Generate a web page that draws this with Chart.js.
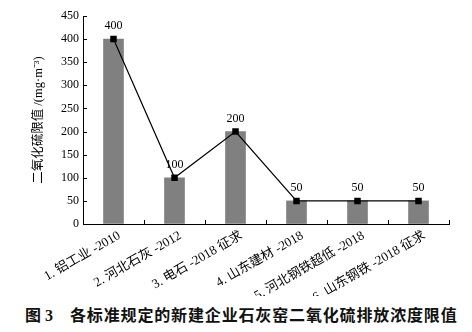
<!DOCTYPE html>
<html>
<head>
<meta charset="utf-8">
<script src="https://cdn.jsdelivr.net/npm/chart.js@4.4.1/dist/chart.umd.min.js"></script>
<style>
  body { margin: 0; background: #fff; }
  #wrap { position: relative; width: 472px; height: 332px; }
  #caption {
    position: absolute; left: 25px; top: 304px;
    font: bold 16px "Noto Sans CJK SC", sans-serif;
    line-height: 20px; color: #111; white-space: nowrap;
  }
  #caption .num { font-family: "Liberation Serif", serif; }
  #caption .txt { position: absolute; left: 45px; top: 0; letter-spacing: 0.85px; }
</style>
</head>
<body>
<div id="wrap">
  <canvas id="chart" width="472" height="296"></canvas>
  <div id="caption">图<span class="num"> 3</span><span class="txt">各标准规定的新建企业石灰窑二氧化硫排放浓度限值</span></div>
</div>
<script>
// categories and values
const categories = [
  "1. 铝工业 -2010",
  "2. 河北石灰 -2012",
  "3. 电石 -2018 征求",
  "4. 山东建材 -2018",
  "5. 河北钢铁超低 -2018",
  "6. 山东钢铁 -2018 征求"
];
const limits = [400, 100, 200, 50, 50, 50];
const yTicks = [0, 50, 100, 150, 200, 250, 300, 350, 400, 450];
const yTitle = "二氧化硫限值 /(mg·m⁻³)";

const serif = "'Liberation Serif', 'Noto Sans CJK SC', serif";

// point labels above the line markers
const valueLabels = {
  id: "valueLabels",
  afterDatasetsDraw(chart) {
    const ctx = chart.ctx;
    const meta = chart.getDatasetMeta(1);
    ctx.save();
    ctx.fillStyle = "#000";
    ctx.font = "12px " + serif;
    ctx.textAlign = "center";
    ctx.textBaseline = "middle";
    meta.data.forEach((pt, i) => {
      ctx.fillText(String(limits[i]), pt.x, pt.y - 13);
    });
    ctx.restore();
  }
};

// tick marks pointing into the plot
const innerTicks = {
  id: "innerTicks",
  afterDraw(chart) {
    const ctx = chart.ctx;
    const x = chart.scales.x;
    const y = chart.scales.y;
    ctx.save();
    ctx.strokeStyle = "#000";
    ctx.lineWidth = 1;
    ctx.beginPath();
    yTicks.forEach(v => {
      const py = Math.round(y.getPixelForValue(v)) + 0.5;
      ctx.moveTo(y.right, py);
      ctx.lineTo(y.right + 4, py);
    });
    for (let i = 0; i <= categories.length; i++) {
      const px = Math.round(x.getPixelForValue(i - 0.5)) + 0.5;
      ctx.moveTo(px, x.top);
      ctx.lineTo(px, x.top - 4);
    }
    ctx.stroke();
    ctx.restore();
  }
};

new Chart(document.getElementById("chart"), {
  type: "bar",
  data: {
    labels: categories,
    datasets: [
      {
        type: "bar",
        data: limits,
        backgroundColor: "#808080",
        borderWidth: 0,
        barThickness: 20,
        order: 2
      },
      {
        type: "line",
        data: limits,
        borderColor: "#000",
        borderWidth: 1.2,
        pointStyle: "rect",
        pointRadius: 4.6,
        pointBackgroundColor: "#000",
        pointBorderColor: "#000",
        pointBorderWidth: 0,
        tension: 0,
        order: 1
      }
    ]
  },
  options: {
    responsive: false,
    animation: false,
    devicePixelRatio: 1,
    layout: { padding: { top: 16, right: 23, left: 0, bottom: 0 } },
    plugins: {
      legend: { display: false },
      tooltip: { enabled: false }
    },
    scales: {
      x: {
        offset: true,
        grid: { display: true, drawOnChartArea: false, drawTicks: false, offset: true },
        border: { color: "#000", width: 1 },
        ticks: {
          color: "#000",
          font: { family: serif, size: 13 },
          minRotation: 30,
          maxRotation: 30,
          autoSkip: false,
          labelOffset: 6,
          padding: 4
        },
        afterFit(scale) { scale.height = 72; }
      },
      y: {
        min: 0,
        max: 450,
        grid: { display: true, drawOnChartArea: false, drawTicks: false },
        border: { color: "#000", width: 1 },
        ticks: {
          color: "#000",
          font: { family: serif, size: 12 },
          stepSize: 50,
          padding: 4
        },
        title: {
          display: true,
          text: yTitle,
          color: "#000",
          font: { family: serif, size: 12.5 },
          padding: { top: 31, bottom: 0 }
        },
        afterFit(scale) { scale.width = 83; }
      }
    }
  },
  plugins: [valueLabels, innerTicks]
});
</script>
</body>
</html>
